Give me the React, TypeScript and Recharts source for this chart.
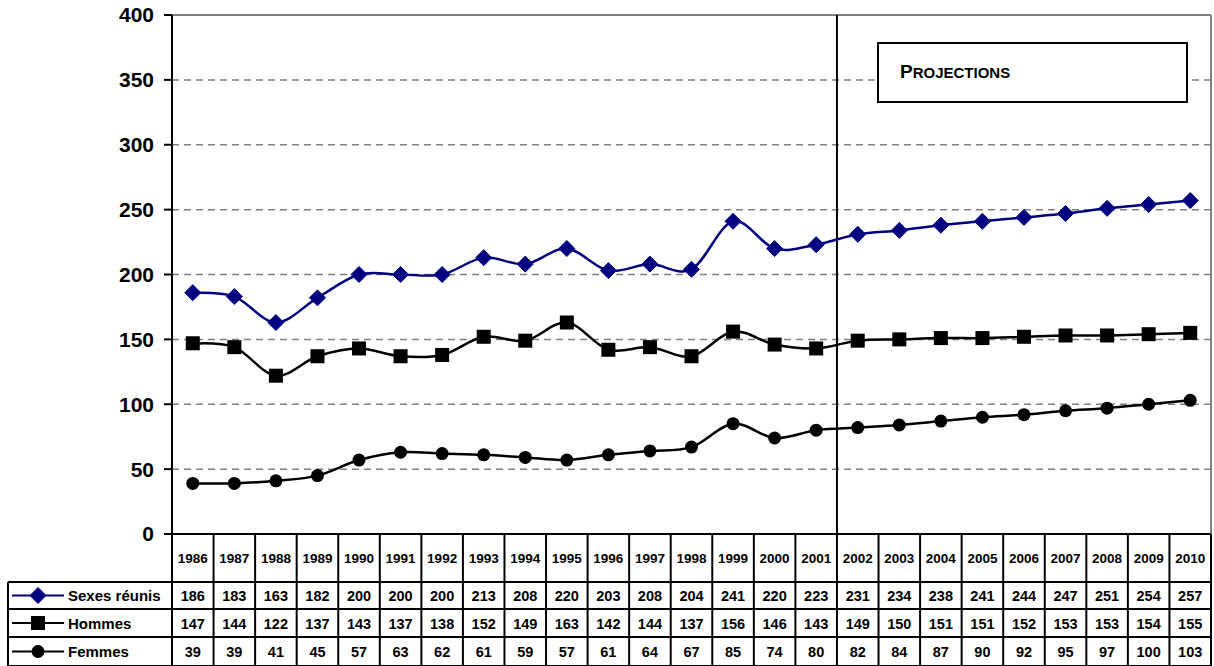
import { LineChart, Line, XAxis, YAxis, CartesianGrid, ReferenceLine } from "recharts";

const years = [
  "1986", "1987", "1988", "1989", "1990", "1991", "1992", "1993", "1994", "1995", "1996", "1997", "1998",
  "1999", "2000", "2001", "2002", "2003", "2004", "2005", "2006", "2007", "2008", "2009", "2010",
];
const sexesReunis = [186, 183, 163, 182, 200, 200, 200, 213, 208, 220, 203, 208, 204, 241, 220, 223, 231, 234, 238, 241, 244, 247, 251, 254, 257];
const hommes = [147, 144, 122, 137, 143, 137, 138, 152, 149, 163, 142, 144, 137, 156, 146, 143, 149, 150, 151, 151, 152, 153, 153, 154, 155];
const femmes = [39, 39, 41, 45, 57, 63, 62, 61, 59, 57, 61, 64, 67, 85, 74, 80, 82, 84, 87, 90, 92, 95, 97, 100, 103];
const yTicks = [0, 50, 100, 150, 200, 250, 300, 350, 400];
const firstProjection = 16; // index of 2002

const data = years.map((year, i) => ({
  i,
  year,
  sexes: sexesReunis[i],
  hommes: hommes[i],
  femmes: femmes[i],
}));

const FONT = "Arial, 'Liberation Sans', sans-serif";
const NAVY = "#000080";

// excel-like smoothing (catmull-rom through the points)
const smoothCurve = (context: any) => {
  let pts: number[][] = [];
  return {
    areaStart() {},
    areaEnd() {},
    lineStart() {
      pts = [];
    },
    point(x: number, y: number) {
      pts.push([+x, +y]);
    },
    lineEnd() {
      if (!pts.length) return;
      context.moveTo(pts[0][0], pts[0][1]);
      for (let k = 0; k < pts.length - 1; k++) {
        const p0 = pts[k - 1] || pts[k];
        const p1 = pts[k];
        const p2 = pts[k + 1];
        const p3 = pts[k + 2] || p2;
        context.bezierCurveTo(
          p1[0] + (p2[0] - p0[0]) / 6,
          p1[1] + (p2[1] - p0[1]) / 6,
          p2[0] - (p3[0] - p1[0]) / 6,
          p2[1] - (p3[1] - p1[1]) / 6,
          p2[0],
          p2[1]
        );
      }
    },
  };
};

const diamond = (cx: number, cy: number, key?: any) => (
  <polygon key={key} points={`${cx},${cy - 8} ${cx + 8},${cy} ${cx},${cy + 8} ${cx - 8},${cy}`} fill={NAVY} stroke={NAVY} />
);
const square = (cx: number, cy: number, key?: any) => (
  <rect key={key} x={cx - 7} y={cy - 7} width={14} height={14} fill="#000" />
);
const circle = (cx: number, cy: number, key?: any) => <circle key={key} cx={cx} cy={cy} r={6.5} fill="#000" />;

// table layout
const plotLeft = 172;
const plotRight = 1211;
const colW = (plotRight - plotLeft) / years.length;
const yearTop = 534;
const yearBottom = 582;
const rowLines = [582, 609, 637, 666];

const rows = [
  { label: "Sexes réunis", values: sexesReunis, color: NAVY, marker: diamond },
  { label: "Hommes", values: hommes, color: "#000", marker: square },
  { label: "Femmes", values: femmes, color: "#000", marker: circle },
];

const DataTable = () => (
  <svg width={1214} height={666} style={{ position: "absolute", left: 0, top: 0, pointerEvents: "none" }}>
    {/* years row */}
    {years.map((y, i) => (
      <text
        key={y}
        x={plotLeft + colW * (i + 0.5)}
        y={(yearTop + yearBottom) / 2 + 5}
        textAnchor="middle"
        fontSize={13.5}
        fontWeight="bold"
        fontFamily={FONT}
      >
        {y}
      </text>
    ))}
    {years.map((y, i) => (
      <line key={"v" + y} x1={plotLeft + colW * i} x2={plotLeft + colW * i} y1={yearTop} y2={666} stroke="#000" strokeWidth={2} />
    ))}
    <line x1={plotRight} x2={plotRight} y1={yearTop} y2={666} stroke="#000" strokeWidth={2} />
    <line x1={8} x2={8} y1={yearBottom} y2={666} stroke="#000" strokeWidth={2} />
    {rowLines.map((ly) => (
      <line key={"h" + ly} x1={8} x2={plotRight} y1={ly} y2={ly} stroke="#000" strokeWidth={2} />
    ))}
    {rows.map((r, ri) => {
      const cy = (rowLines[ri] + rowLines[ri + 1]) / 2;
      return (
        <g key={r.label}>
          <line x1={12} x2={64} y1={cy} y2={cy} stroke={r.color} strokeWidth={2} />
          {r.marker(38, cy)}
          <text x={68} y={cy + 5.5} fontSize={15} fontWeight="bold" fontFamily={FONT}>
            {r.label}
          </text>
          {r.values.map((v, i) => (
            <text
              key={i}
              x={plotLeft + colW * (i + 0.5)}
              y={cy + 5.5}
              textAnchor="middle"
              fontSize={14.5}
              fontWeight="bold"
              fontFamily={FONT}
            >
              {v}
            </text>
          ))}
        </g>
      );
    })}
    {/* projections box */}
    <rect x={878} y={43} width={309} height={59} fill="#fff" stroke="#000" strokeWidth={2} />
    <text x={900} y={78} fontWeight="bold" fontFamily={FONT}>
      <tspan fontSize={19}>P</tspan>
      <tspan fontSize={15}>ROJECTIONS</tspan>
    </text>
  </svg>
);

const App = () => {
  return (
    <div style={{ position: "absolute", left: 0, top: 0, width: 1214, height: 666, background: "#fff" }}>
      <LineChart width={1214} height={560} data={data} margin={{ top: 15, right: 3, bottom: 26, left: 0 }}>
        <CartesianGrid horizontal vertical={false} stroke="#808080" strokeWidth={1.5} strokeDasharray="7 5" />
        <XAxis type="number" dataKey="i" domain={[-0.5, years.length - 0.5]} hide />
        <YAxis
          type="number"
          domain={[0, 400]}
          ticks={yTicks}
          width={172}
          interval={0}
          axisLine={{ stroke: "#000", strokeWidth: 2 }}
          tickLine={{ stroke: "#000", strokeWidth: 2 }}
          tickSize={8}
          tickMargin={10}
          tick={{ fill: "#000", fontSize: 21, fontWeight: "bold", fontFamily: FONT }}
        />
        <ReferenceLine y={400} stroke="#808080" strokeWidth={2} />
        <ReferenceLine x={years.length - 0.5} stroke="#808080" strokeWidth={2} />
        <ReferenceLine y={0} stroke="#000" strokeWidth={2} />
        <ReferenceLine x={firstProjection - 0.5} stroke="#000" strokeWidth={2} />
        <Line
          dataKey="sexes"
          type={smoothCurve as any}
          stroke={NAVY}
          strokeWidth={2.5}
          dot={(p: any) => diamond(p.cx, p.cy, p.key ?? "s" + p.index)}
          activeDot={false}
          isAnimationActive={false}
        />
        <Line
          dataKey="hommes"
          type={smoothCurve as any}
          stroke="#000"
          strokeWidth={2.5}
          dot={(p: any) => square(p.cx, p.cy, p.key ?? "h" + p.index)}
          activeDot={false}
          isAnimationActive={false}
        />
        <Line
          dataKey="femmes"
          type={smoothCurve as any}
          stroke="#000"
          strokeWidth={2.5}
          dot={(p: any) => circle(p.cx, p.cy, p.key ?? "f" + p.index)}
          activeDot={false}
          isAnimationActive={false}
        />
      </LineChart>
      <DataTable />
    </div>
  );
};

export default App;
